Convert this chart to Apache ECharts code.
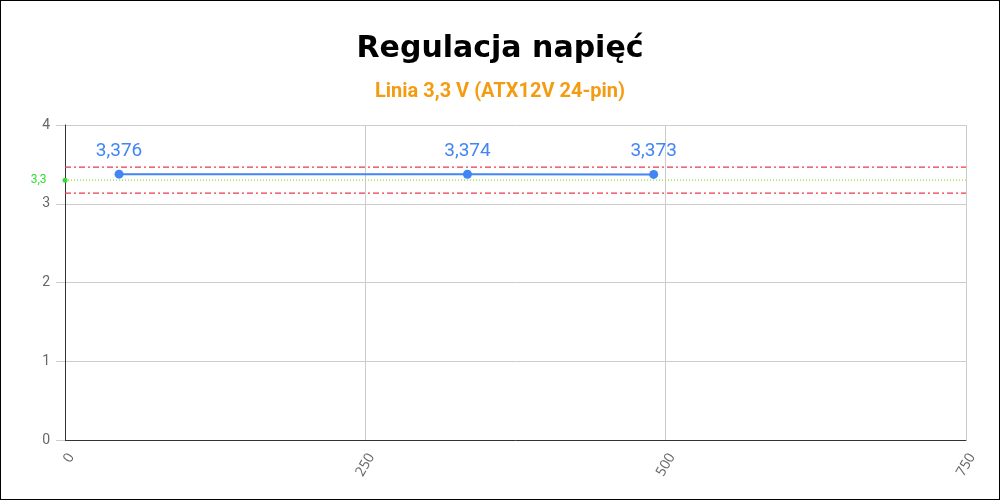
<!DOCTYPE html>
<html><head><meta charset="utf-8">
<script src="https://cdn.jsdelivr.net/npm/echarts@6/dist/echarts.min.js"></script>
<style>html,body{margin:0;padding:0;background:#fff}#c{width:1000px;height:500px;box-sizing:border-box;border:1px solid #000}</style>
</head><body><div id="c"></div>
<script>
const loads = [45, 335, 490];
const voltages = [3.376, 3.374, 3.373];
const xRange = [0, 750];
const nominal = 3.3;
const upperLimit = 3.465;
const lowerLimit = 3.135;
const titleText = 'Regulacja napięć';
const subtitleText = 'Linia 3,3 V (ATX12V 24-pin)';

const chart = echarts.init(document.getElementById('c'));
const fmt = v => String(v).replace('.', ',');
const limitLine = (v) => ({
  type: 'line', silent: true, symbol: 'none', z: 1,
  data: xRange.map(x => [x, v]),
  lineStyle: {color: '#f0364a', type: [6, 3, 2, 3], width: 1.3}
});
chart.setOption({
  animation: false,
  title: {
    text: titleText, subtext: subtitleText, left: 'center', top: 28, itemGap: 18,
    textStyle: {fontFamily: 'DejaVu Sans', fontWeight: 'bold', fontSize: 30, color: '#000'},
    subtextStyle: {fontFamily: 'Roboto', fontWeight: 'bold', fontSize: 20, color: '#f39c12'}
  },
  grid: {left: 64, right: 33, top: 124, bottom: 59},
  xAxis: {
    type: 'value', min: 0, max: 750, interval: 250,
    axisLine: {show: true, onZero: false, lineStyle: {color: '#333', width: 1}},
    axisTick: {show: false},
    splitLine: {show: true, lineStyle: {color: '#ccc'}},
    axisLabel: {rotate: 60, verticalAlign: 'top', color: '#666', fontFamily: 'Open Sans', fontSize: 14, margin: 11}
  },
  yAxis: {
    type: 'value', min: 0, max: 4, interval: 1,
    axisLine: {show: true, lineStyle: {color: '#333', width: 1}},
    axisTick: {show: true, length: 9, inside: false, lineStyle: {color: '#ccc'}},
    splitLine: {show: true, lineStyle: {color: '#ccc'}},
    axisLabel: {color: '#666', fontFamily: 'Roboto', fontSize: 14, margin: 15}
  },
  series: [
    limitLine(upperLimit),
    limitLine(lowerLimit),
    {
      type: 'line', silent: true, z: 1, clip: false,
      data: [
        {value: [xRange[0], nominal], symbol: 'circle', symbolSize: 5,
          label: {show: true, position: 'left', distance: 16, formatter: fmt(nominal), color: '#33dd33', fontFamily: 'Roboto', fontSize: 12}},
        {value: [xRange[1], nominal], symbol: 'none'}
      ],
      showAllSymbol: true,
      itemStyle: {color: '#33dd33'},
      lineStyle: {color: '#88dd44', type: [1, 2], width: 1.2}
    },
    {
      type: 'line',
      data: loads.map((x, i) => [x, voltages[i]]),
      symbol: 'circle', symbolSize: 9,
      lineStyle: {color: '#4285f4', width: 2},
      itemStyle: {color: '#4285f4'},
      z: 5,
      label: {show: true, position: 'top', distance: 9, color: '#4285f4', fontFamily: 'Roboto', fontSize: 19,
        formatter: p => fmt(p.value[1])}
    }
  ]
});
</script></body></html>
